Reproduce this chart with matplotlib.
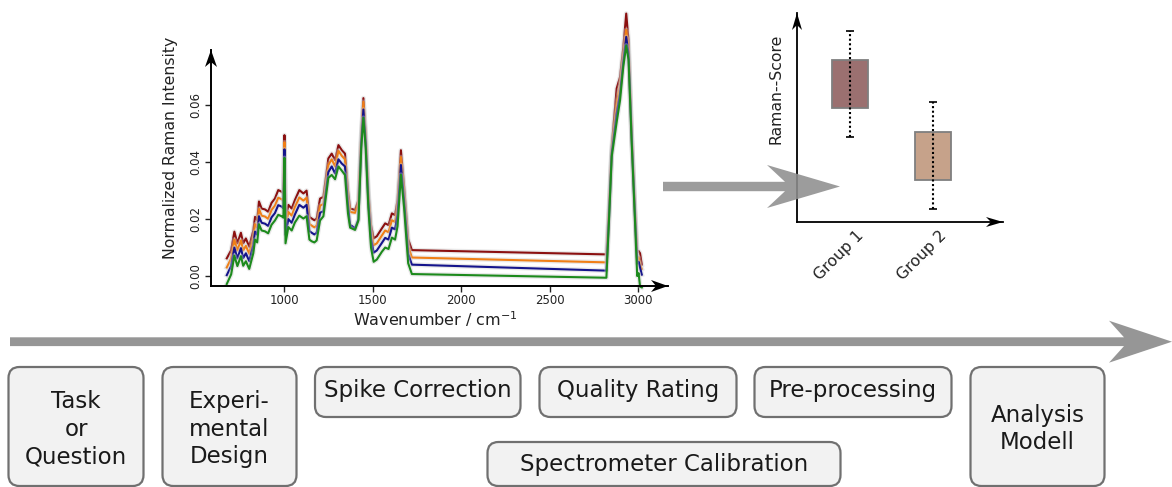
import matplotlib
matplotlib.use("Agg")
import matplotlib.pyplot as plt
from matplotlib.patches import FancyBboxPatch, Polygon
from matplotlib.transforms import ScaledTranslation
import matplotlib.patheffects as pe

# ---------------- data ----------------
wavenumber = [675, 700, 718, 735, 755, 768, 783, 802, 825, 835, 847, 857, 872, 891,
              909, 928, 947, 966, 985, 995, 1001, 1007, 1023, 1042, 1060, 1085, 1108,
              1126, 1142, 1155, 1170, 1183, 1202, 1221, 1249, 1268, 1287, 1306, 1325,
              1343, 1360, 1372, 1400, 1419, 1435, 1447, 1460, 1475, 1490, 1505, 1523,
              1551, 1570, 1589, 1608, 1626, 1640, 1659, 1677, 1700, 1721, 2820, 2835,
              2850, 2878, 2897, 2915, 2932, 2945, 2963, 2981, 2994, 3002, 3010, 3020]

spec_red = [0.0062, 0.0091, 0.0156, 0.0115, 0.0152, 0.0115, 0.0132, 0.0103, 0.0160, 0.0208,
            0.0196, 0.0262, 0.0237, 0.0234, 0.0226, 0.0257, 0.0272, 0.0302, 0.0296, 0.0290,
            0.0495, 0.0196, 0.0250, 0.0237, 0.0267, 0.0302, 0.0290, 0.0300, 0.0208, 0.0202,
            0.0196, 0.0202, 0.0272, 0.0278, 0.0413, 0.0430, 0.0407, 0.0460, 0.0442, 0.0430,
            0.0300, 0.0237, 0.0232, 0.0267, 0.0500, 0.0625, 0.0500, 0.0300, 0.0180, 0.0132,
            0.0140, 0.0167, 0.0185, 0.0179, 0.0220, 0.0214, 0.0267, 0.0442, 0.0313, 0.0130,
            0.0091, 0.0076, 0.0250, 0.0454, 0.0659, 0.0699, 0.0800, 0.0922, 0.0828, 0.0500,
            0.0243, 0.0085, 0.0088, 0.0080, 0.0040]

spec_orange = [0.0030, 0.0062, 0.0128, 0.0090, 0.0125, 0.0090, 0.0106, 0.0078, 0.0134, 0.0182,
               0.0170, 0.0236, 0.0212, 0.0209, 0.0201, 0.0232, 0.0247, 0.0275, 0.0270, 0.0264,
               0.0470, 0.0170, 0.0225, 0.0212, 0.0242, 0.0276, 0.0265, 0.0275, 0.0183, 0.0177,
               0.0171, 0.0177, 0.0247, 0.0253, 0.0390, 0.0410, 0.0385, 0.0440, 0.0422, 0.0410,
               0.0280, 0.0225, 0.0222, 0.0255, 0.0490, 0.0612, 0.0490, 0.0285, 0.0158, 0.0108,
               0.0115, 0.0142, 0.0160, 0.0154, 0.0196, 0.0190, 0.0243, 0.0418, 0.0290, 0.0105,
               0.0065, 0.0048, 0.0230, 0.0440, 0.0605, 0.0670, 0.0770, 0.0865, 0.0800, 0.0490,
               0.0230, 0.0068, 0.0065, 0.0040, 0.0025]

spec_blue = [0.0003, 0.0035, 0.0100, 0.0062, 0.0098, 0.0063, 0.0080, 0.0052, 0.0108, 0.0156,
             0.0145, 0.0210, 0.0187, 0.0184, 0.0176, 0.0206, 0.0221, 0.0249, 0.0244, 0.0238,
             0.0445, 0.0145, 0.0200, 0.0187, 0.0216, 0.0250, 0.0240, 0.0250, 0.0158, 0.0152,
             0.0146, 0.0152, 0.0222, 0.0228, 0.0365, 0.0385, 0.0360, 0.0410, 0.0395, 0.0385,
             0.0250, 0.0180, 0.0168, 0.0200, 0.0470, 0.0585, 0.0470, 0.0260, 0.0132, 0.0082,
             0.0090, 0.0116, 0.0134, 0.0128, 0.0170, 0.0164, 0.0216, 0.0390, 0.0265, 0.0078,
             0.0040, 0.0019, 0.0210, 0.0430, 0.0570, 0.0640, 0.0750, 0.0840, 0.0780, 0.0478,
             0.0215, 0.0044, 0.0050, 0.0030, 0.0005]

spec_green = [-0.0028, 0.0006, 0.0072, 0.0035, 0.0070, 0.0036, 0.0052, 0.0025, 0.0080, 0.0128,
              0.0118, 0.0182, 0.0160, 0.0157, 0.0150, 0.0180, 0.0195, 0.0215, 0.0210, 0.0205,
              0.0415, 0.0115, 0.0172, 0.0160, 0.0188, 0.0212, 0.0202, 0.0210, 0.0128, 0.0122,
              0.0118, 0.0125, 0.0195, 0.0210, 0.0345, 0.0355, 0.0340, 0.0385, 0.0370, 0.0355,
              0.0220, 0.0170, 0.0162, 0.0195, 0.0450, 0.0556, 0.0450, 0.0240, 0.0100, 0.0050,
              0.0058, 0.0085, 0.0100, 0.0095, 0.0135, 0.0128, 0.0175, 0.0356, 0.0240, 0.0045,
              0.0007, -0.0006, 0.0200, 0.0420, 0.0541, 0.0617, 0.0734, 0.0810, 0.0760, 0.0466,
              0.0200, 0.0000, 0.0010, -0.0037, -0.0040]

spec_xticks = [1000, 1500, 2000, 2500, 3000]
spec_yticks = [0.00, 0.02, 0.04, 0.06]
spec_ytick_labels = ["0.00", "0.02", "0.04", "0.06"]

groups = ["Group 1", "Group 2"]
group_pos = [1, 2]
box_q1 = [5.45, 2.01]
box_q3 = [7.75, 4.31]
whisker_lo = [4.07, 0.62]
whisker_hi = [9.14, 5.74]

workflow_steps = ["Task\nor\nQuestion", "Experi-\nmental\nDesign", "Spike Correction",
                  "Quality Rating", "Pre-processing", "Spectrometer Calibration",
                  "Analysis\nModell"]

# ---------------- figure ----------------
W, H = 1172, 487
fig = plt.figure(figsize=(W / 100, H / 100), dpi=100)
fig.patch.set_facecolor("white")


def px_rect(x0, y0, x1, y1):
    return [x0 / W, 1 - y1 / H, (x1 - x0) / W, (y1 - y0) / H]


def style_axis_lines(ax, lw):
    for name, s in ax.spines.items():
        if name in ("left", "bottom"):
            s.set_linewidth(lw)
            s.set_color("black")
        else:
            s.set_visible(False)


SPEC_BOX = (211, 50, 668, 286)      # pixel extent of the spectrum axes
SCORE_BOX = (797, 13, 1003, 222)    # pixel extent of the score axes

# ---- spectrum panel ----
ax1 = fig.add_axes(px_rect(*SPEC_BOX))
ax1.set_facecolor("none")
ax1.set_xlim(586, 3168)
ax1.set_ylim(-0.0035, 0.0794)
halo = [pe.Stroke(linewidth=3.4, foreground="#c8c8c8", alpha=0.4), pe.Normal()]
for vals, col in [(spec_red, "#8b1010"), (spec_orange, "#f07f16"),
                  (spec_blue, "#14148c"), (spec_green, "#1c8a1c")]:
    ax1.plot(wavenumber, vals, color=col, lw=1.5, clip_on=False, path_effects=halo,
             solid_joinstyle="round")
style_axis_lines(ax1, 1.4)
ax1.set_xticks(spec_xticks)
ax1.set_yticks(spec_yticks, spec_ytick_labels)
ax1.tick_params(axis="both", length=4, width=1, pad=2, labelsize=8.5, colors="#222222")
ax1.tick_params(axis="y", labelrotation=90)
for lab in ax1.get_yticklabels():
    lab.set_va("center")
ax1.set_xlabel("Wavenumber / cm$^{-1}$", fontsize=11.5, color="#222222", va="center", ha="center")
ax1.xaxis.set_label_coords(0.492, -0.14)
ax1.set_ylabel("Normalized Raman Intensity", fontsize=11.3, color="#222222", va="center", ha="center")
ax1.yaxis.set_label_coords(-0.088, 0.587)

# ---- box panel ----
ax2 = fig.add_axes(px_rect(*SCORE_BOX))
ax2.set_facecolor("none")
ax2.set_xlim(0.36, 2.84)
ax2.set_ylim(0, 10)
ax2.bar(group_pos, [h - l for l, h in zip(box_q1, box_q3)], bottom=box_q1, width=0.43,
        color=["#9b7070", "#c6a28a"], edgecolor="#7f7f7f", linewidth=1.3, zorder=2)
ax2.vlines(group_pos, whisker_lo, whisker_hi, colors="black", linestyles=(0, (1, 1.2)),
           linewidth=1.5, zorder=3)
ax2.hlines(whisker_lo + whisker_hi, [p - 0.05 for p in group_pos * 2],
           [p + 0.05 for p in group_pos * 2], colors="black", linewidth=1.2, zorder=3)
style_axis_lines(ax2, 1.3)
ax2.set_xticks(group_pos, groups, rotation=45, ha="right", rotation_mode="anchor")
ax2.set_yticks([])
ax2.tick_params(axis="x", length=0, pad=4, labelsize=11.3, colors="#222222")
for lab in ax2.get_xticklabels():
    lab.set_transform(lab.get_transform() + ScaledTranslation(4 / 72, 0, fig.dpi_scale_trans))
ax2.text(-0.1, 0.636, "Raman--Score", transform=ax2.transAxes, rotation=90,
         ha="center", va="center", fontsize=11.3, color="#222222")

# ---- overlay: arrows and workflow boxes ----
ov = fig.add_axes([0, 0, 1, 1], zorder=10)
ov.set_xlim(0, W)
ov.set_ylim(H, 0)
ov.axis("off")
ov.patch.set_alpha(0)


def head_right(x, y, L=17, hw=6, notch=5):
    return [(x, y), (x - L, y - hw), (x - L + notch, y), (x - L, y + hw)]


def head_up(x, y, L=17, hw=6, notch=5):
    return [(x, y), (x + hw, y + L), (x, y + L - notch), (x - hw, y + L)]


for (x0, y0, x1, y1), hw in [(SPEC_BOX, 6), (SCORE_BOX, 5)]:
    ov.add_patch(Polygon(head_right(x1, y1, hw=hw), closed=True, facecolor="black", edgecolor="none"))
    ov.add_patch(Polygon(head_up(x0, y0, hw=hw), closed=True, facecolor="black", edgecolor="none"))

main_arrow = [(10, 337.3), (1124, 337.3), (1109, 320.7), (1172, 341.7),
              (1109, 362.7), (1124, 346.1), (10, 346.1)]
ov.add_patch(Polygon(main_arrow, closed=True, facecolor="#969696", edgecolor="none"))
small_arrow = [(663, 181.8), (785, 181.8), (767, 165), (840, 186.5),
               (767, 208), (785, 191.2), (663, 191.2)]
ov.add_patch(Polygon(small_arrow, closed=True, facecolor="#8e8e8e", edgecolor="none", alpha=0.88))

# (x0, y0, x1, y1, text_y)
box_geom = [(8.5, 367, 143.5, 486, 429),
            (162.5, 367, 296.5, 486, 429),
            (315, 367, 520.5, 417, 391),
            (539.5, 367, 736.5, 417, 391),
            (754.5, 367, 951.5, 417, 391),
            (487.5, 442, 840.5, 486, 465),
            (970.5, 367, 1104.5, 486, 429)]
for (x0, y0, x1, y1, ty), label in zip(box_geom, workflow_steps):
    ov.add_patch(FancyBboxPatch((x0, y0), x1 - x0, y1 - y0,
                                boxstyle="round,pad=0,rounding_size=11",
                                facecolor="#f2f2f2", edgecolor="#707070", linewidth=1.6))
    ov.text((x0 + x1) / 2, ty, label, ha="center", va="center", fontsize=16.5,
            linespacing=1.25, color="#1a1a1a")

fig.savefig("out.png", dpi=100, facecolor="white")
